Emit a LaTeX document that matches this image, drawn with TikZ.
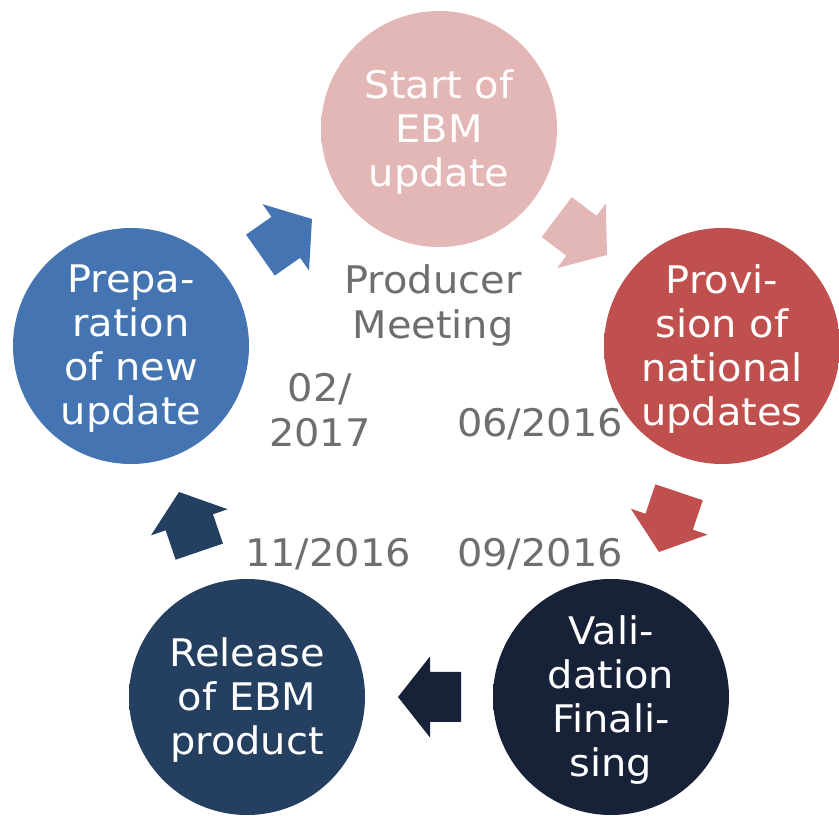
\documentclass[tikz,border=0pt]{standalone}
\usepackage{fontspec}
\setmainfont[FakeStretch=1.05]{DejaVu Sans}
\definecolor{pinkC}{RGB}{228,183,183}
\definecolor{redC}{RGB}{192,80,77}
\definecolor{darkC}{RGB}{23,34,56}
\definecolor{navyC}{RGB}{36,63,96}
\definecolor{blueC}{RGB}{68,117,178}
\definecolor{grayT}{RGB}{110,110,110}
\colorlet{pinkD}{pinkC!72!gray}
\colorlet{redD}{redC!72!gray}
\colorlet{darkD}{darkC!60!gray}
\colorlet{navyD}{navyC!65!gray}
\colorlet{blueD}{blueC!70!gray}
\pgfdeclareradialshading{pinkshade}{\pgfpoint{3bp}{-3bp}}{color(0bp)=(pinkC); color(44bp)=(pinkC); color(53bp)=(pinkD)}
\pgfdeclareradialshading{redshade}{\pgfpoint{3bp}{-3bp}}{color(0bp)=(redC); color(44bp)=(redC); color(53bp)=(redD)}
\pgfdeclareradialshading{darkshade}{\pgfpoint{3bp}{-3bp}}{color(0bp)=(darkC); color(44bp)=(darkC); color(53bp)=(darkD)}
\pgfdeclareradialshading{navyshade}{\pgfpoint{3bp}{-3bp}}{color(0bp)=(navyC); color(44bp)=(navyC); color(53bp)=(navyD)}
\pgfdeclareradialshading{blueshade}{\pgfpoint{3bp}{-3bp}}{color(0bp)=(blueC); color(44bp)=(blueC); color(53bp)=(blueD)}
\newcommand\blockarr[3]{%
  \fill[#1, shift={#2}, rotate=#3] (0,0) -- (-32,40.5) -- (-32,25) -- (-63,25) -- (-63,-25) -- (-32,-25) -- (-32,-40.5) -- cycle;}
\begin{document}
\begin{tikzpicture}[x=1pt,y=1pt,
  stage/.style={circle, minimum size=236pt, inner sep=0pt},
  stxt/.style={text=white, align=center, inner sep=0pt, font=\fontsize{38}{44}\selectfont},
  lbl/.style={text=grayT, align=center, inner sep=0pt, font=\fontsize{38}{45}\selectfont}]
\useasboundingbox (0,0) rectangle (839,815);
\node[stage, shading=pinkshade] (top) at (439,686) {};
\node[stage, shading=redshade] (right) at (722,469) {};
\node[stage, shading=darkshade] (bright) at (611,118) {};
\node[stage, shading=navyshade] (bleft) at (247,118) {};
\node[stage, shading=blueshade] (left) at (131,469) {};
\node[stxt] (ttop) at ([yshift=-3pt]top.center) {Start of\\EBM\\update};
\node[stxt] (tright) at ([yshift=-3pt]right.center) {Provi-\\sion of\\national\\updates};
\node[stxt] (tbright) at ([yshift=-3pt]bright.center) {Vali-\\dation\\Finali-\\sing};
\node[stxt] (tbleft) at ([yshift=-3pt]bleft.center) {Release\\of EBM\\product};
\node[stxt] (tleft) at ([yshift=-3pt]left.center) {Prepa-\\ration\\of new\\update};
\blockarr{pinkC}{(607,560)}{-37}
\blockarr{redC}{(659,263)}{-108.6}
\blockarr{darkC}{(398,118)}{180}
\blockarr{navyC}{(179,323)}{108.8}
\blockarr{blueC}{(312,596)}{35}
\node[lbl] (meet) at (433,509) {Producer\\Meeting};
\node[lbl] (d1) at (540,391) {06/2016};
\node[lbl] (d2) at (540,261) {09/2016};
\node[lbl] (d3) at (328,261) {11/2016};
\node[lbl] (d4) at (320,405) {02/\\2017};
\end{tikzpicture}
\end{document}
